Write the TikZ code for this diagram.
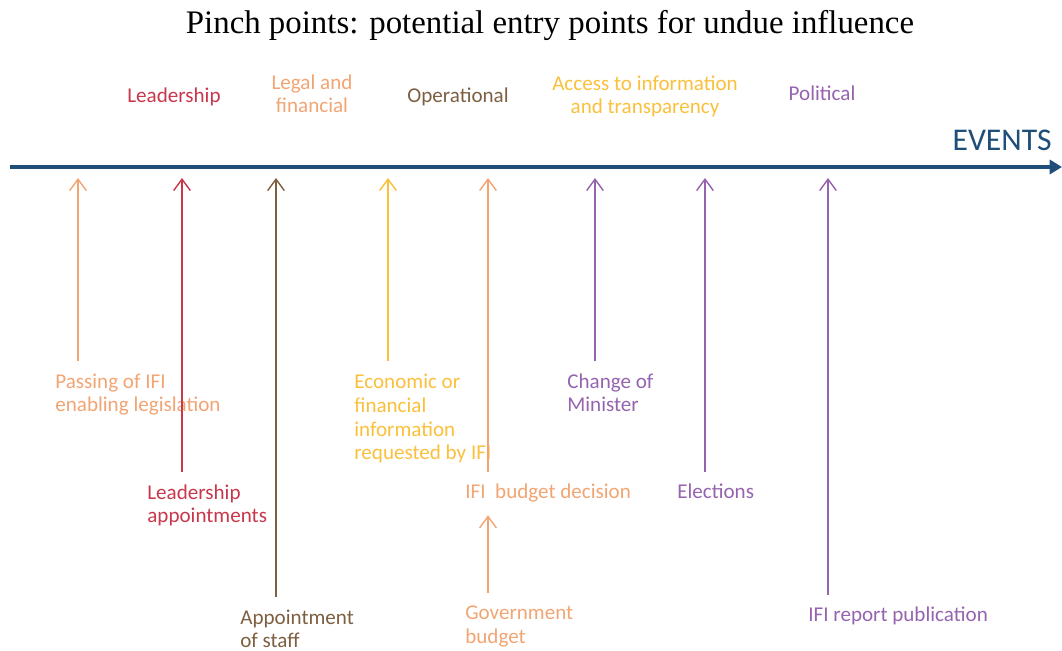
\documentclass[tikz,border=0pt]{standalone}
\usepackage{fontspec}
\setmainfont{Carlito}
\newfontfamily\titlefont{Liberation Serif}
\usepackage{tikz}
\usetikzlibrary{arrows.meta}

\definecolor{timeblue}{RGB}{31,78,121}
\definecolor{peach}{RGB}{242,165,115}
\definecolor{leadred}{RGB}{200,55,75}
\definecolor{opbrown}{RGB}{125,95,65}
\definecolor{gold}{RGB}{250,192,60}
\definecolor{polpurple}{RGB}{150,100,175}

\tikzset{
    evarrow/.style={line width=0.8pt, shorten <=7pt, -{Straight Barb[length=6.5pt,width=9.5pt]}},
    evlabel/.style={anchor=base west, inner sep=0pt, align=left, font=\fontsize{12}{13.6}\selectfont},
    catlabel/.style={anchor=base, inner sep=0pt, align=center, font=\fontsize{12}{13.6}\selectfont},
}

\begin{document}
\begin{tikzpicture}[x=0.02cm, y=-0.02cm]
            \useasboundingbox (0,0) rectangle (1062,651);
            \node[anchor=base, inner sep=0pt, font=\titlefont\fontsize{18.7}{22}\selectfont] at (550,34) (title) {Pinch points: potential entry points for undue influence};

            % multi-line labels sit on the baseline of their last line
            \node[catlabel, leadred] at (174,103) (catlead) {Leadership};
            \node[catlabel, peach] at (312,113) (catlegal) {Legal and\\financial};
            \node[catlabel, opbrown] at (458,103) (catop) {Operational};
            \node[catlabel, gold] at (645,114) (catinfo) {Access to information\\and transparency};
            \node[catlabel, polpurple] at (822,101) (catpol) {Political};

            \coordinate (tl) at (10,167);
            \coordinate (tr) at (1062,167);
            \draw[timeblue, line width=2.3pt, -{Triangle[length=7pt,width=8pt]}] (tl) -- (tr);
            \node[anchor=base east, inner sep=0pt, text=timeblue, font=\fontsize{18}{20}\selectfont] at (1052,151) (events) {EVENTS};

            \coordinate (e1) at (78,178);
            \coordinate (e2) at (182,178);
            \coordinate (e3) at (276,178);
            \coordinate (e4) at (388,178);
            \coordinate (e5) at (488,178);
            \coordinate (e6) at (595,178);
            \coordinate (e7) at (705,178);
            \coordinate (e8) at (828,178);

            \node[evlabel, peach] at (55,412) (passing) {Passing of IFI\\enabling legislation};
            \node[evlabel, leadred] at (147,523) (leadapp) {Leadership\\appointments};
            \node[evlabel, opbrown] at (240,648) (staff) {Appointment\\of staff};
            \node[evlabel, gold] at (354,460) (econ) {Economic or\\financial\\information\\requested by IFI};
            \node[evlabel, peach] at (465,499) (ifibudget) {IFI\ \ budget decision};
            \node[evlabel, peach] at (465,643) (govbudget) {Government\\budget};
            \node[evlabel, polpurple] at (567,412) (minister) {Change of\\Minister};
            \node[evlabel, polpurple] at (677,499) (elections) {Elections};
            \node[evlabel, polpurple] at (808,622) (report) {IFI report publication};

            \draw[evarrow, peach] (passing.north -| e1) -- (e1);
            \draw[evarrow, leadred] (leadapp.north -| e2) -- (e2);
            \draw[evarrow, opbrown] (staff.north -| e3) -- (e3);
            \draw[evarrow, gold] (econ.north -| e4) -- (e4);
            \draw[evarrow, peach] (ifibudget.north -| e5) -- (e5);
            \draw[evarrow, peach, shorten >=7pt] (govbudget.north -| e5) -- (ifibudget.south -| e5);
            \draw[evarrow, polpurple] (minister.north -| e6) -- (e6);
            \draw[evarrow, polpurple] (elections.north -| e7) -- (e7);
            \draw[evarrow, polpurple] (report.north -| e8) -- (e8);
\end{tikzpicture}
\end{document}
